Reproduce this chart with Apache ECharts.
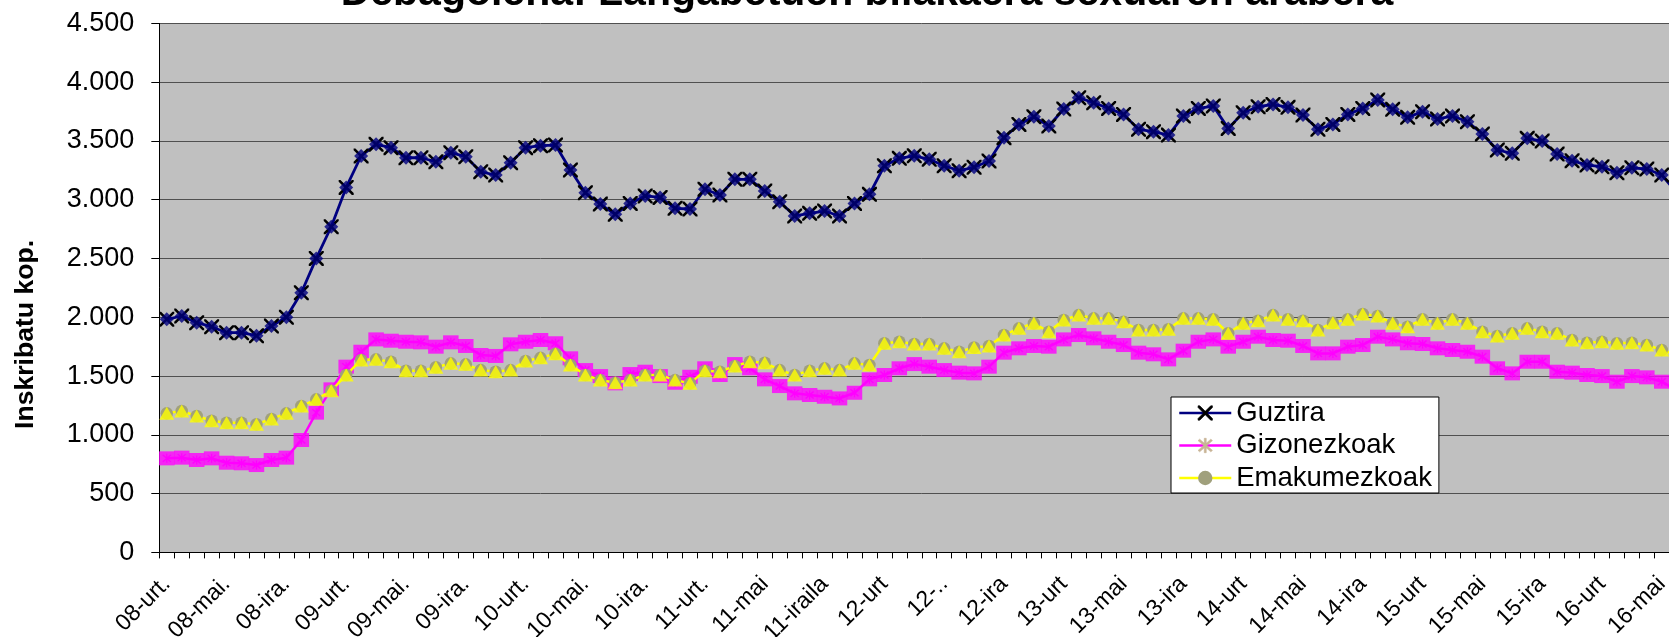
<!DOCTYPE html>
<html>
<head>
<meta charset="utf-8">
<title>Debagoiena</title>
<script src="https://cdn.jsdelivr.net/npm/echarts@6/dist/echarts.min.js"></script>
<style>
* { margin: 0; padding: 0; }
html, body { width: 1669px; height: 637px; overflow: hidden; background: #fff; }
/* the chart is wider/taller than the window: the reference is cut at top and right */
#main { position: absolute; left: 0; top: -30px; width: 1734px; height: 667px; }
</style>
</head>
<body>
<div id="main"></div>
<script>
// tick labels, one every 4 months (2008-01 .. 2016-05)
const tickLabels = ['08-urt.', '08-mai.', '08-ira.', '09-urt.', '09-mai.', '09-ira.', '10-urt.', '10-mai.', '10-ira.',
  '11-urt.', '11-mai', '11-iraila', '12-urt', '12-..', '12-ira', '13-urt', '13-mai', '13-ira',
  '14-urt', '14-mai', '14-ira', '15-urt', '15-mai', '15-ira', '16-urt', '16-mai']

const guztira = [1983, 2011, 1954, 1920, 1869, 1869, 1843, 1926, 2000, 2209, 2501, 2770, 3105, 3372, 3471, 3443,
  3357, 3357, 3323, 3400, 3366, 3238, 3210, 3315, 3443, 3460, 3465, 3253, 3060, 2963, 2876, 2969,
  3032, 3020, 2927, 2921, 3089, 3040, 3174, 3174, 3074, 2983, 2862, 2884, 2904, 2862, 2969, 3046,
  3289, 3352, 3374, 3344, 3289, 3247, 3276, 3329, 3528, 3641, 3706, 3627, 3772, 3868, 3825, 3777,
  3726, 3599, 3579, 3550, 3712, 3777, 3797, 3607, 3740, 3791, 3811, 3786, 3721, 3599, 3641, 3726,
  3777, 3848, 3769, 3701, 3749, 3687, 3712, 3664, 3559, 3423, 3395, 3522, 3499, 3389, 3332, 3295,
  3281, 3230, 3272, 3261, 3210, 3060]

const gizonezkoak = [800, 806, 786, 800, 763, 758, 743, 786, 806, 956, 1189, 1387, 1580, 1707, 1812, 1801,
  1792, 1787, 1750, 1787, 1756, 1679, 1671, 1770, 1792, 1807, 1779, 1651, 1551, 1500, 1438, 1517,
  1537, 1500, 1443, 1494, 1566, 1509, 1602, 1566, 1472, 1415, 1353, 1339, 1324, 1310, 1358, 1472,
  1509, 1566, 1602, 1580, 1551, 1529, 1523, 1580, 1699, 1736, 1756, 1750, 1812, 1849, 1821, 1792,
  1764, 1699, 1685, 1642, 1716, 1792, 1812, 1750, 1792, 1835, 1807, 1801, 1756, 1693, 1693, 1750,
  1764, 1835, 1812, 1779, 1773, 1736, 1722, 1707, 1665, 1566, 1523, 1622, 1622, 1537, 1529, 1509,
  1500, 1452, 1500, 1489, 1452, 1381]

const emakumezkoak = [1183, 1203, 1160, 1120, 1103, 1103, 1090, 1135, 1183, 1245, 1302, 1375, 1509, 1637, 1642, 1622,
  1546, 1546, 1575, 1608, 1600, 1551, 1537, 1551, 1628, 1655, 1690, 1594, 1509, 1466, 1443, 1466,
  1509, 1509, 1466, 1438, 1546, 1537, 1586, 1622, 1614, 1551, 1509, 1546, 1566, 1551, 1608, 1594,
  1779, 1792, 1773, 1773, 1736, 1707, 1744, 1756, 1849, 1906, 1949, 1877, 1977, 2019, 1991, 1991,
  1962, 1892, 1892, 1898, 1991, 1991, 1983, 1864, 1949, 1971, 2019, 1983, 1971, 1892, 1954, 1983,
  2028, 2011, 1949, 1920, 1983, 1949, 1983, 1949, 1877, 1841, 1864, 1906, 1877, 1864, 1807, 1784,
  1792, 1779, 1784, 1764, 1722, 1679]

// one category per month, only every 4th one carries a label
const categories = guztira.map((v, i) => (i % 4 === 0 && tickLabels[i / 4]) ? tickLabels[i / 4] : '')

const FONT = 'Liberation Sans, Arial, sans-serif'
const X_MARK = 'path://M0,0L1.2,0L10,8.8L10,10L8.8,10L0,1.2Z M10,0L10,1.2L1.2,10L0,10L0,8.8L8.8,0Z'
const STAR_MARK = 'path://M4.4,0L5.6,0L5.6,10L4.4,10Z M0.6,1.6L1.6,0.6L9.4,8.4L8.4,9.4Z M8.4,0.6L9.4,1.6L1.6,9.4L0.6,8.4Z'

function thousands(v) {
  return v >= 1000 ? Math.floor(v / 1000) + '.' + String(v % 1000).padStart(3, '0') : String(v)
}

const chart = echarts.init(document.getElementById('main'))
chart.setOption({
  animation: false,
  title: {
    text: 'Debagoiena: Langabetuen bilakaera sexuaren arabera',
    left: 'center',
    top: 3,
    padding: 0,
    textStyle: { fontFamily: FONT, fontSize: 41, fontWeight: 'bold', color: '#000' }
  },
  legend: {
    orient: 'vertical',
    left: 1171,
    top: 427,
    padding: [1, 7, 0, 7],
    itemWidth: 52,
    itemHeight: 18,
    itemGap: 2.5,
    selectedMode: false,
    backgroundColor: '#fff',
    borderColor: '#000',
    borderWidth: 1,
    borderRadius: 0,
    textStyle: { fontFamily: FONT, fontSize: 27.5, lineHeight: 30, color: '#000' },
    data: [
      { name: 'Guztira', itemStyle: { color: '#000', borderColor: '#000', borderWidth: 0.6 }, lineStyle: { color: '#000080', width: 2.5 } },
      { name: 'Gizonezkoak', itemStyle: { color: '#c8b496', borderColor: '#c8b496', borderWidth: 0.6 }, lineStyle: { color: '#ff00ff', width: 2.5 } },
      { name: 'Emakumezkoak', itemStyle: { color: '#a0a07c', borderWidth: 0 }, lineStyle: { color: '#ffff00', width: 2.5 } }
    ]
  },
  grid: {
    left: 159.3,
    top: 53.4,
    width: 1524.9, // 102 months, runs past the right edge of the window
    height: 529,
    outerBoundsMode: 'none',
    show: true,
    backgroundColor: '#c0c0c0',
    borderWidth: 0
  },
  xAxis: {
    type: 'category',
    boundaryGap: true,
    data: categories,
    axisLine: { lineStyle: { color: '#000', width: 1 } },
    axisTick: { show: true, interval: 0, length: 6, lineStyle: { color: '#000' } },
    axisLabel: { interval: 0, rotate: 45, margin: 28, fontFamily: FONT, fontSize: 23, color: '#000' },
    splitLine: { show: false }
  },
  yAxis: {
    type: 'value',
    min: 0,
    max: 4500,
    interval: 500,
    name: 'Inskribatu kop.',
    nameLocation: 'middle',
    nameRotate: 90,
    nameGap: 120,
    nameTextStyle: { fontFamily: FONT, fontSize: 26.6, fontWeight: 'bold', color: '#000', padding: [0, 93, 0, 0] },
    axisLine: { show: true, lineStyle: { color: '#000', width: 1 } },
    axisTick: { show: true, length: 8, lineStyle: { color: '#000' } },
    axisLabel: { margin: 25, fontFamily: FONT, fontSize: 27, color: '#000', formatter: thousands },
    splitLine: { lineStyle: { color: '#505050', width: 1 } }
  },
  series: [
    {
      name: 'Guztira',
      type: 'line',
      z: 2,
      data: guztira,
      symbol: X_MARK,
      symbolSize: 15,
      itemStyle: { color: '#000', borderWidth: 0 },
      lineStyle: { color: '#000080', width: 2.8 }
    },
    {
      name: 'Guztira', // diamond marker over the X
      type: 'scatter',
      z: 3,
      data: guztira,
      symbol: 'diamond',
      symbolSize: 14,
      itemStyle: { color: '#000080' }
    },
    {
      name: 'Gizonezkoak',
      type: 'line',
      z: 4,
      data: gizonezkoak,
      symbol: STAR_MARK,
      symbolSize: 9,
      itemStyle: { color: '#ff00ff', borderWidth: 0 },
      lineStyle: { color: '#ff00ff', width: 2.5 }
    },
    {
      name: 'Gizonezkoak',
      type: 'scatter',
      z: 5,
      data: gizonezkoak,
      symbol: 'rect',
      symbolSize: [15.5, 14],
      itemStyle: { color: '#ff00ff' }
    },
    {
      name: 'Emakumezkoak',
      type: 'line',
      z: 6,
      data: emakumezkoak,
      symbol: 'circle',
      symbolSize: 12.5,
      itemStyle: { color: '#a0a07c', borderWidth: 0 },
      lineStyle: { color: '#ffff00', width: 2.5 }
    },
    {
      name: 'Emakumezkoak',
      type: 'scatter',
      z: 7,
      data: emakumezkoak,
      symbol: 'triangle',
      symbolSize: [15, 13],
      itemStyle: { color: '#ffff00' }
    }
  ]
})
</script>
</body>
</html>
